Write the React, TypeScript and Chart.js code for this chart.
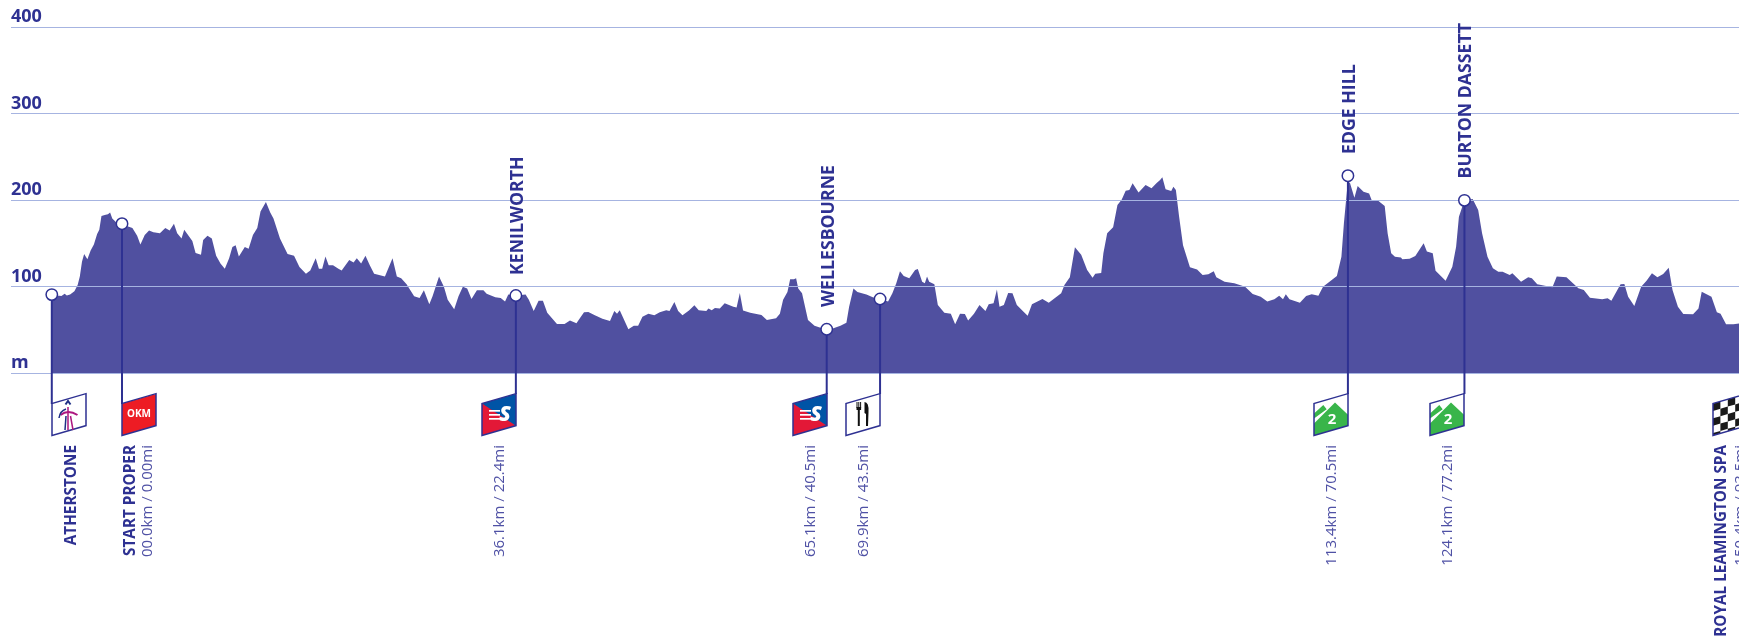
import React, { useEffect, useRef } from "react";
import { Chart, registerables } from "chart.js";

Chart.register(...registerables);

const profileKm = [
  -6.5,-6.0,-5.6,-5.3,-5.1,-4.8,-4.4,-4.1,-3.9,-3.7,-3.5,-3.2,-2.9,-2.6,-2.3,-2.1,-1.9,-1.6,-1.3,-1.1,-0.9,-0.5,0,0.5,0.96,1.4,1.7,2.1,2.5,2.9,3.5,4.0,4.4,4.8,5.1,5.5,5.75,6.1,6.5,6.8,7.3,7.5,7.9,8.3,8.7,9.1,9.5,9.9,10.2,10.5,10.8,11.35,11.7,12.1,12.5,12.8,13.3,13.7,14.0,14.6,15.3,15.9,16.4,17.0,17.4,17.9,18.2,18.5,18.8,19.1,19.5,20.0,20.3,21.0,21.4,21.7,22.1,22.5,22.9,23.3,24.3,25.0,25.4,25.8,26.3,27.0,27.5,27.9,28.4,28.7,29.3,29.75,30.1,30.7,31.1,31.5,31.9,32.3,32.8,33.4,33.7,34.5,35.0,35.4,35.7,36.4,37.3,37.6,38.05,38.5,38.9,39.3,40.2,40.9,41.4,42.0,
  42.33,42.7,43.1,43.7,44.4,45.1,45.5,45.75,46.0,46.4,46.8,47.3,47.7,48.1,48.65,49.2,49.7,50.3,50.6,51.05,51.4,51.8,52.4,52.9,53.3,54.0,54.2,54.5,54.8,55.25,55.7,56.5,56.8,57.1,57.4,58.06,59.1,59.6,60.45,60.8,61.1,61.5,61.75,62.1,62.3,62.5,62.85,63.4,64.0,64.7,65.13,65.75,66.4,66.95,67.2,67.6,67.97,68.8,69.5,70.06,70.8,71.2,71.56,71.9,72.25,72.76,73.3,73.55,73.95,74.2,74.4,74.6,75.08,75.4,76.0,76.6,77.0,77.45,77.9,78.2,78.74,79.25,79.8,80.1,80.55,80.86,81.1,81.5,81.9,82.3,82.7,83.25,83.7,84.1,85.07,85.65,86.8,87.1,87.6,88.07,88.65,89.2,89.7,89.95,90.5,90.7,91.05,91.6,92.0,92.4,92.76,93.1,93.4,93.95,94.6,95.15,95.6,
  95.94,96.15,96.45,96.97,97.17,97.4,97.7,98.06,98.7,99.36,99.87,100.4,100.9,101.14,101.9,102.8,103.8,104.5,105.24,105.85,106.5,106.95,107.3,107.56,107.9,108.86,109.44,109.96,110.57,111.0,112.28,112.7,112.93,113.3,113.5,113.9,114.2,114.74,115.26,115.5,116.1,116.7,116.97,117.3,117.65,118.2,118.33,119.0,119.53,120.3,120.6,121.14,121.4,122.33,122.95,123.3,123.56,124.07,124.83,125.34,125.7,126.2,126.7,127.2,127.6,128.25,128.5,129.3,129.96,130.3,130.8,131.5,132.2,132.6,133.5,134.6,135.1,135.67,136.8,137.3,137.65,138.2,138.5,138.85,139.2,139.77,140.4,140.9,141.4,141.9,142.44,142.95,143.3,143.8,144.3,145.2,145.7,146.0,146.9,147.4,147.74,148.25,148.93,149.55,150.4,
];

const profileElevation = [
  91,90,89.5,92,90,91,95,102,112,129,138,132,142,149,161,166,182,183,184,186,179,174,173,170,168,159,149,160,165,163,162,168,165,173,162,156,166,160,153,139,137,154,159,156,136,127,121,133,146,148,135,146,144,160,168,187,198,186,179,156,138,136,123,115,119,133,121,121,135,125,125,121,119,131,128,133,127,136,125,115,112,133,112,110,103,89,87,96,80,89,112,100,85,74,89,100,98,86,96,96,92,88,87,83,91,90,91,85,72,84,84,70,57,57,61,58,
  64,70.5,71,67,63,60.5,72,69,73,62,51,55,55,65.5,69,67,70.5,73,72,82.5,72,67,72.5,78.6,73,72,75,73,75.5,75,81,77,76,93,72.5,70,67.5,61.7,63.6,69,85,94,108.7,108.7,110,98,92.5,61.7,55,52,51,52,55,58.6,77,98,94,91,87.5,86,83,92.5,104,118,112.5,110,119.5,120.6,106,104,112,106,103,79,70,69,56.6,69,68.6,61,69,79,72,80,81,97,77,79,93,92.5,79,72,66.7,80,86,81.7,92.5,102,111,145.7,137,119.5,110.6,115,116,138.7,162,169,194.6,201,211,212,219.7,209,217.7,214,219.7,
  223.5,226.6,212.7,210.8,215.8,212,181,148,122.5,120,113.7,114.5,118,111,106,104,100,91.7,88.6,82.9,85.5,89.8,85.5,91.3,85.5,81.7,89.4,91.3,89.8,100,112.5,134.9,173.4,222.7,219.7,203,216.6,210,208,200,199.6,193.4,161.8,138.7,134.9,134,131.8,132.6,135.6,150.3,140.7,138.7,118.7,107,123.3,146.4,181,200,201.5,188.8,161.8,134.9,121.4,117.5,117.5,113.7,115.6,106,111,110,103,101.3,99.4,111.8,111,98.3,96.3,87.5,85.5,86.7,84,96.3,103,103.3,88.6,77.8,100,107,115.6,111,114.8,122,96.3,77,68.6,68.2,75,94.4,88.6,70.5,69,56.6,56.6,57.8,56,
];

const elevationTicks = [0, 100, 200, 300, 400];
const unitLabel = "m";

const waypointKm = [-6.49, 0, 36.4, 65.13, 70.06, 113.3, 124.07, 150.2];
const waypointElevation = [91, 173, 90, 51, 86, 228.5, 200, 56];
const waypointNames = ["ATHERSTONE", "START PROPER", "KENILWORTH", "WELLESBOURNE", "", "EDGE HILL", "BURTON DASSETT", "ROYAL LEAMINGTON SPA"];
const waypointDistances = ["", "00.0km / 0.00mi", "36.1km / 22.4mi", "65.1km / 40.5mi", "69.9km / 43.5mi", "113.4km / 70.5mi", "124.1km / 77.2mi", "150.4km / 93.5mi"];
const waypointFlags = ["atherstone", "okm", "sprint", "sprint", "food", "climb", "climb", "finish"];

const NAVY = "#2e3192";
const FILL = "#5050a0";
const GRID = "#a6b4e1";
const DIST = "#4f51a5";
const FONT = '"Open Sans"';

function vText(ctx: CanvasRenderingContext2D, s: string, x: number, y: number, align: CanvasTextAlign, font: string, color: string) {
  ctx.save();
  ctx.translate(x, y);
  ctx.rotate(-Math.PI / 2);
  ctx.font = font;
  ctx.fillStyle = color;
  ctx.textAlign = align;
  ctx.textBaseline = "middle";
  ctx.fillText(s, 0, 0);
  ctx.restore();
}

function drawFlag(ctx: CanvasRenderingContext2D, kind: string, left: number) {
  const W = 34, H = 32, TOP = 403.5;
  ctx.save();
  ctx.transform(1, -0.29, 0, 1, left, TOP);
  ctx.beginPath();
  ctx.rect(0, 0, W, H);
  ctx.fillStyle = "#ffffff";
  ctx.fill();
  ctx.save();
  ctx.clip();
  if (kind === "okm") {
    ctx.fillStyle = "#ed1c24";
    ctx.fillRect(0, 0, W, H);
  } else if (kind === "sprint") {
    ctx.fillStyle = "#e31837";
    ctx.fillRect(0, 0, W, H);
    ctx.fillStyle = "#0054a6";
    ctx.beginPath();
    ctx.moveTo(0, 0);
    ctx.lineTo(W, 0);
    ctx.lineTo(W, H);
    ctx.closePath();
    ctx.fill();
  } else if (kind === "climb") {
    ctx.fillStyle = "#39b54a";
    ctx.beginPath();
    ctx.moveTo(0, 20);
    ctx.lineTo(21, 5);
    ctx.lineTo(W, 21);
    ctx.lineTo(W, H);
    ctx.lineTo(0, H);
    ctx.closePath();
    ctx.moveTo(0, 15);
    ctx.lineTo(0, 10);
    ctx.lineTo(9.3, 4.2);
    ctx.lineTo(12.7, 9.5);
    ctx.closePath();
    ctx.fill();
  } else if (kind === "finish") {
    const c = 7.4;
    ctx.fillStyle = "#1a1a1a";
    for (let i = 0; i < 5; i++) for (let j = 0; j < 5; j++) if ((i + j) % 2 === 0) ctx.fillRect(i * c, j * c, c, c);
  }
  ctx.restore();
  ctx.beginPath();
  ctx.rect(0, 0, W, H);
  ctx.strokeStyle = NAVY;
  ctx.lineWidth = 1.5;
  ctx.stroke();
  ctx.restore();

  const cx = left + W / 2;
  const cy = 414.5;
  ctx.save();
  ctx.textAlign = "center";
  ctx.textBaseline = "middle";
  if (kind === "okm") {
    ctx.fillStyle = "#fff";
    ctx.font = `700 10px ${FONT}`;
    ctx.fillText("OKM", cx, cy);
  } else if (kind === "sprint") {
    ctx.fillStyle = "#fff";
    ctx.fillRect(left + 7, 410, 11, 1.7);
    ctx.fillRect(left + 7, 414, 11, 1.7);
    ctx.fillRect(left + 7, 418, 11, 1.7);
    ctx.font = `italic 800 21px ${FONT}`;
    ctx.fillText("S", left + 23, 415);
  } else if (kind === "climb") {
    ctx.fillStyle = "#fff";
    ctx.font = `700 15px ${FONT}`;
    ctx.fillText("2", left + 18, 420);
  } else if (kind === "food") {
    ctx.fillStyle = "#111";
    ctx.fillRect(cx - 6.5, 402, 1, 6);
    ctx.fillRect(cx - 4.7, 402, 1, 6);
    ctx.fillRect(cx - 2.9, 402, 1, 6);
    ctx.fillRect(cx - 6.5, 407, 4.6, 3);
    ctx.fillRect(cx - 5.2, 409, 2, 17);
    ctx.beginPath();
    ctx.moveTo(cx + 1.5, 402);
    ctx.quadraticCurveTo(cx + 6, 402, cx + 5.5, 412);
    ctx.lineTo(cx + 5, 426);
    ctx.lineTo(cx + 3, 426);
    ctx.lineTo(cx + 3, 414);
    ctx.lineTo(cx + 1.5, 413);
    ctx.closePath();
    ctx.fill();
  } else if (kind === "atherstone") {
    ctx.strokeStyle = "#1f2f86";
    ctx.lineWidth = 2;
    ctx.beginPath();
    ctx.moveTo(cx - 3.5, 404.5);
    ctx.lineTo(cx - 1, 401);
    ctx.lineTo(cx + 1.5, 404.5);
    ctx.stroke();
    ctx.strokeStyle = "#ad1780";
    ctx.beginPath();
    ctx.moveTo(cx - 8.5, 415);
    ctx.quadraticCurveTo(cx - 1, 409, cx + 8.5, 415);
    ctx.stroke();
    ctx.lineWidth = 1.5;
    ctx.beginPath();
    ctx.moveTo(cx - 1, 407);
    ctx.lineTo(cx - 1, 430);
    ctx.moveTo(cx + 1.5, 416);
    ctx.lineTo(cx + 4, 430);
    ctx.stroke();
    ctx.strokeStyle = "#1f2f86";
    ctx.beginPath();
    ctx.moveTo(cx - 10, 418);
    ctx.quadraticCurveTo(cx - 9, 411, cx - 3, 409);
    ctx.moveTo(cx - 3, 416);
    ctx.lineTo(cx - 4, 430);
    ctx.stroke();
  }
  ctx.restore();
}

const profilePlugin = {
  id: "profileMarks",
  afterDatasetDraw(chart: any, args: any) {
    if (args.index !== 0) return;
    const { ctx, scales, chartArea } = chart;
    ctx.save();
    scales.y.drawGrid(chartArea);
    ctx.strokeStyle = NAVY;
    ctx.lineWidth = 2;
    waypointKm.forEach((km, i) => {
      const x = scales.x.getPixelForValue(km);
      const yb = i < 2 ? 404 : 394;
      ctx.beginPath();
      ctx.moveTo(x, scales.y.getPixelForValue(waypointElevation[i]));
      ctx.lineTo(x, yb);
      ctx.stroke();
    });
    ctx.restore();
  },
  afterDraw(chart: any) {
    const { ctx, scales } = chart;
    const topFont = `700 17.7px ${FONT}`;
    const lowFont = `700 15.3px ${FONT}`;
    const distFont = `400 15px ${FONT}`;
    waypointKm.forEach((km, i) => {
      const x = Math.round(scales.x.getPixelForValue(km));
      const leftStem = i < 2;
      drawFlag(ctx, waypointFlags[i], leftStem ? x : x - 34);
      const name = waypointNames[i];
      const dist = waypointDistances[i];
      if (i === 0) vText(ctx, name, x + 20, 445, "right", lowFont, NAVY);
      else if (i === 1) vText(ctx, name, x + 9, 445, "right", lowFont, NAVY);
      else if (i === 7) vText(ctx, name, x - 25, 445, "right", lowFont, NAVY);
      else if (name) {
        const bottoms: Record<string, number> = { KENILWORTH: 275, WELLESBOURNE: 307, "EDGE HILL": 154, "BURTON DASSETT": 178.5 };
        vText(ctx, name, x + 1.5, bottoms[name], "left", topFont, NAVY);
      }
      if (dist) {
        const dx = i === 1 ? 26 : i === 7 ? -6 : -16;
        vText(ctx, dist, x + dx, 445, "right", distFont, DIST);
      }
    });
  },
};

export default function App() {
  const ref = useRef<HTMLCanvasElement>(null);
  useEffect(() => {
    document.body.style.margin = "0";
    document.body.style.overflow = "hidden";
    const chart = new Chart(ref.current as HTMLCanvasElement, {
      type: "line",
      data: {
        datasets: [
          {
            data: profileKm.map((x, i) => ({ x, y: profileElevation[i] })),
            borderWidth: 0,
            borderColor: FILL,
            backgroundColor: FILL,
            fill: "origin",
            tension: 0,
            pointRadius: 0,
            order: 2,
          },
          {
            data: waypointKm.map((x, i) => ({ x, y: waypointElevation[i] })),
            showLine: false,
            pointRadius: 5.7,
            pointBorderWidth: 1.5,
            pointBackgroundColor: "#ffffff",
            pointBorderColor: NAVY,
            order: 1,
          },
        ],
      },
      options: {
        animation: false,
        responsive: false,
        layout: { autoPadding: false, padding: { left: 11, right: 0, top: 0, bottom: 0 } },
        plugins: { legend: { display: false }, tooltip: { enabled: false } },
        scales: {
          x: { type: "linear", display: false, min: -10.26, max: 149.445 },
          y: {
            type: "linear",
            min: -308.3,
            max: 431.6,
            afterBuildTicks: (axis: any) => {
              axis.ticks = elevationTicks.map((value) => ({ value }));
            },
            afterFit: (axis: any) => {
              axis.paddingTop = 0;
              axis.paddingBottom = 0;
            },
            border: { display: false },
            grid: { color: GRID, lineWidth: 1, drawTicks: false },
            ticks: {
              mirror: true,
              padding: 0,
              labelOffset: -10,
              color: NAVY,
              font: { family: "Open Sans", size: 18, weight: "bold" },
              callback: (v: any) => (v === 0 ? unitLabel : String(v)),
            },
          },
        },
      },
      plugins: [profilePlugin],
    } as any);
    return () => chart.destroy();
  }, []);
  return <canvas ref={ref} width={1739} height={640} style={{ display: "block", position: "absolute", left: 0, top: 0 }} />;
}
